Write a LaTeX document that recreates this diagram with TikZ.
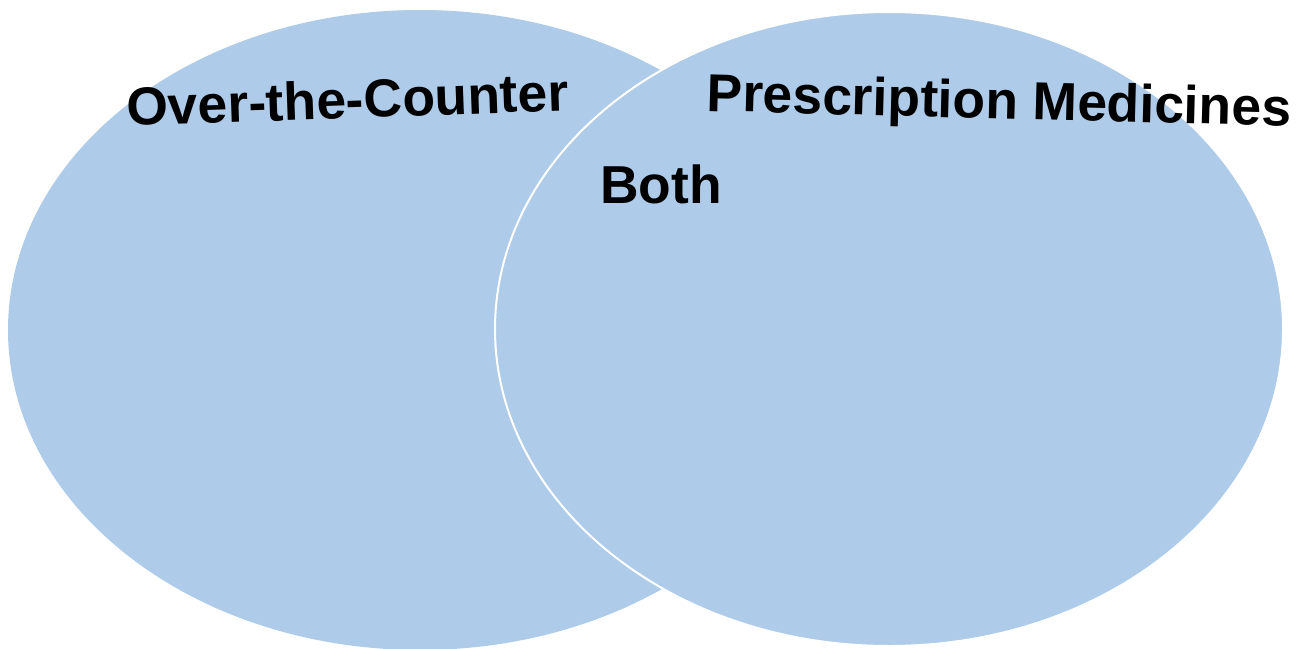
\documentclass[tikz,border=0pt]{standalone}
\usepackage{fontspec}
\setmainfont{Liberation Sans}
\usetikzlibrary{shapes.geometric}
\definecolor{vennblue}{RGB}{174,204,233}
\tikzstyle{setE} = [ellipse, fill=vennblue, inner sep=0pt]
\tikzstyle{setL} = [inner sep=0pt, font=\bfseries\fontsize{26.7}{30}\selectfont]

\begin{document}
\begin{tikzpicture}[x=0.5pt, y=-0.5pt]
\useasboundingbox (0,0) rectangle (1305,648);

% Define nodes
\node[setE, minimum width=412pt, minimum height=320pt]                    (otc) at (420,330) {};
\node[setE, minimum width=394pt, minimum height=317pt, draw=white, line width=1pt] (rx) at (889,329) {};

% Labels
\node[setL, anchor=base west, rotate=2]    (otcL)  at (127,126) {Over-the-Counter};
\node[setL, anchor=base west, rotate=-1.5] (rxL)   at (706,111) {Prescription Medicines};
\node[setL, anchor=base west]              (both)  at (600,203) {Both};
\end{tikzpicture}
\end{document}
